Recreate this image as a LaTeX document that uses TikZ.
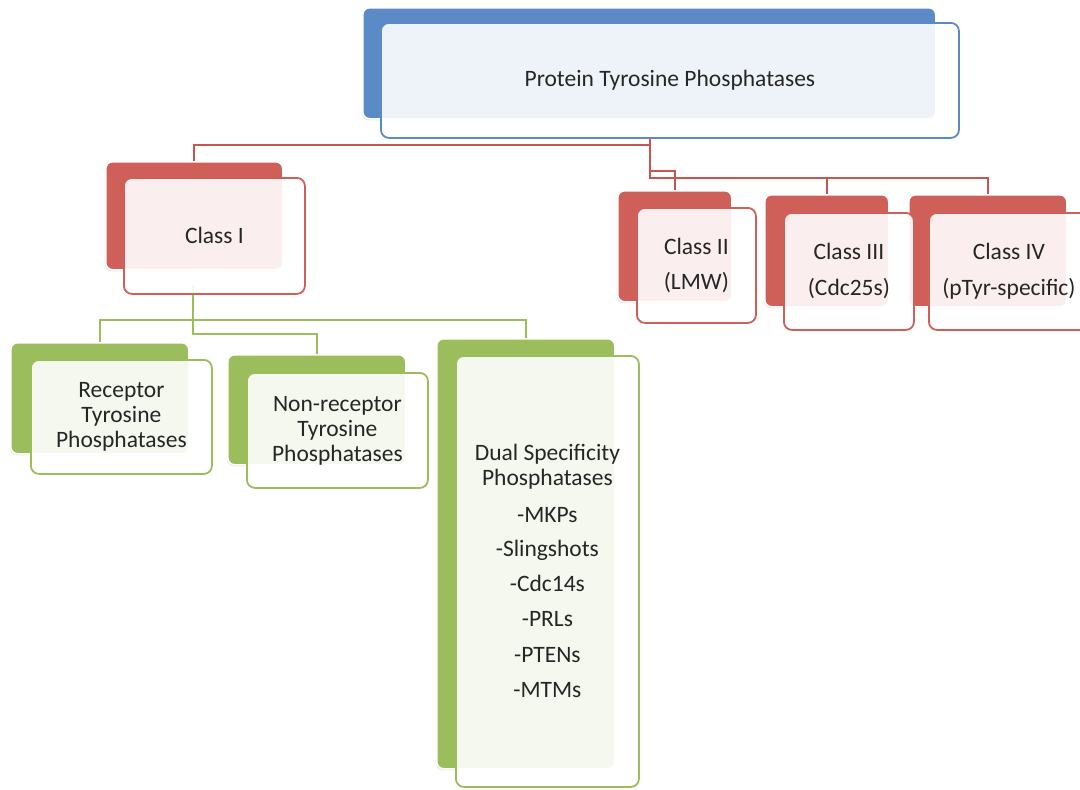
\documentclass[tikz,border=0pt]{standalone}
\usepackage{fontspec}
\setmainfont{Carlito}
\usetikzlibrary{shadows,calc}
\definecolor{pblue}{HTML}{5A8BC6}
\definecolor{pred}{HTML}{CF5F59}
\definecolor{pgreen}{HTML}{9CBD5C}
\definecolor{pline}{HTML}{C9554F}
\definecolor{ptxt}{HTML}{262626}
\tikzset{
  back/.style={rectangle, rounded corners=7pt, draw=white, line width=1.5pt, inner sep=0pt, anchor=north west,
    drop shadow={shadow xshift=-1pt, shadow yshift=-1.5pt, opacity=0.18}},
  front/.style={rectangle, rounded corners=8pt, fill=white, fill opacity=0.9, text opacity=1, line width=1.8pt,
    inner sep=0pt, anchor=north west, align=center, font=\fontsize{23.5}{25}\selectfont, text=ptxt},
  conn/.style={line width=2pt},
}
\begin{document}
\begin{tikzpicture}[x=1pt,y=-1pt]
\useasboundingbox (0,0) rectangle (1080,790);
% connector anchors
\coordinate (tp) at (650,137);
\coordinate (gp) at (193,285);
% back boxes
\path (362,7) node[back, minimum width=573pt, minimum height=111pt, fill=pblue] (topb) {};
\path (105,161) node[back, minimum width=177pt, minimum height=108pt, fill=pred] (c1b) {};
\path (617,190) node[back, minimum width=114pt, minimum height=111pt, fill=pred] (c2b) {};
\path (764,194) node[back, minimum width=124pt, minimum height=112pt, fill=pred] (c3b) {};
\path (908,194) node[back, minimum width=158pt, minimum height=112pt, fill=pred] (c4b) {};
\path (10,342) node[back, minimum width=178pt, minimum height=111pt, fill=pgreen] (rb) {};
\path (227,354) node[back, minimum width=178pt, minimum height=110pt, fill=pgreen] (nb) {};
\path (436,338) node[back, minimum width=178pt, minimum height=430pt, fill=pgreen] (db) {};
% connectors
\draw[conn,pline] (tp) -- (650,145) -| (c1b.north);
\draw[conn,pline] (tp) |- ($(c2b.north)+(0,-19)$) -- (c2b.north);
\draw[conn,pline] (tp) -- (650,178) -| (c3b.north);
\draw[conn,pline] (tp) -- (650,178) -| (c4b.north);
\draw[conn,pgreen] (gp) -- (193,320) -| (rb.north);
\draw[conn,pgreen] (gp) -- (193,334) -| (nb.north);
\draw[conn,pgreen] (gp) -- (193,320) -| (db.north);
% front boxes
\path (380,22) node[front, draw=pblue, minimum width=578pt, minimum height=115pt] (topf) {Protein Tyrosine Phosphatases};
\path (123,177) node[front, draw=pred, minimum width=181pt, minimum height=116pt] (c1f) {Class I};
\path (636,207) node[front, draw=pred, minimum width=119pt, minimum height=115pt] (c2f) {Class II\\[10pt](LMW)};
\path (783,212) node[front, draw=pred, minimum width=130pt, minimum height=117pt] (c3f) {Class III\\[11pt](Cdc25s)};
\path (928,212) node[front, draw=pred, minimum width=160pt, minimum height=117pt] (c4f) {Class IV\\[11pt](pTyr-specific)};
\path (30,359) node[front, draw=pgreen, minimum width=181pt, minimum height=114pt] (rf) {Receptor\\Tyrosine\\Phosphatases};
\path (246,372) node[front, draw=pgreen, minimum width=181pt, minimum height=115pt] (nf) {Non-receptor\\Tyrosine\\Phosphatases};
\path (455,355) node[front, draw=pgreen, minimum width=183pt, minimum height=431pt] (df) {Dual Specificity\\Phosphatases\\[12pt]-MKPs\\[9pt]-Slingshots\\[10pt]-Cdc14s\\[10pt]-PRLs\\[11pt]-PTENs\\[10pt]-MTMs};
\end{tikzpicture}
\end{document}
